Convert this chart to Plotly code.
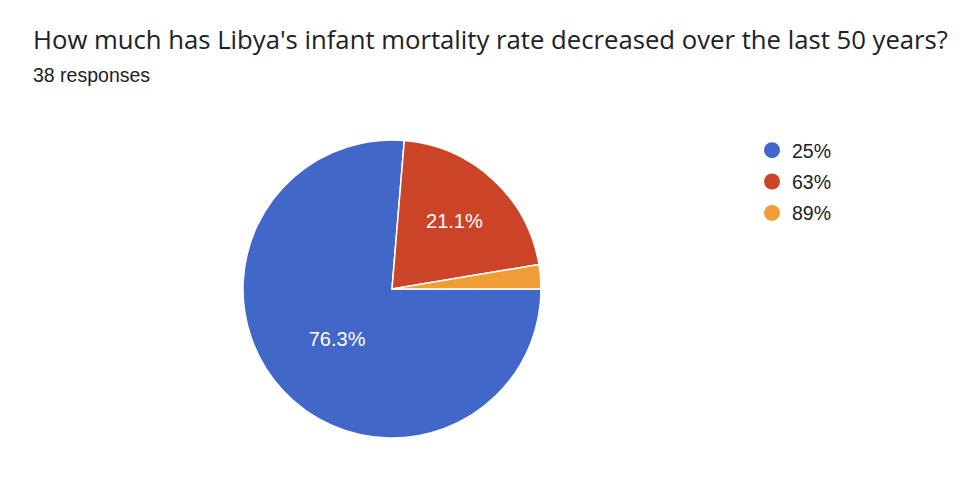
import plotly.graph_objects as go

# Antwortdaten aus dem Formular
labels = ["25%", "63%", "89%"]
counts = [29, 8, 1]
colors = ["#4167c8", "#cc4427", "#f19d37"]

title = "How much has Libya's infant mortality rate decreased over the last 50 years?"
subtitle = f"{sum(counts)} responses"

total = sum(counts)
slice_text = [f"{c / total:.1%}" if c / total >= 0.05 else "" for c in counts]

W, H = 978, 480
OFF = 8  # body margin of the html page

fig = go.Figure()

fig.add_trace(go.Pie(
    labels=labels,
    values=counts,
    text=slice_text,
    textinfo="text",
    textposition="inside",
    insidetextorientation="horizontal",
    textfont=dict(family="Liberation Sans", size=20, color="white"),
    marker=dict(colors=colors, line=dict(color="white", width=1.5)),
    sort=False,
    direction="clockwise",
    rotation=90,
    showlegend=False,
    hoverinfo="label+value+percent",
    domain=dict(x=[(243 - OFF) / W, (541 - OFF) / W],
                y=[(H - 438 + OFF) / H, (H - 140 + OFF) / H]),
))

# Legende mit runden Markern wie bei Google Forms
for lab, col in zip(labels, colors):
    fig.add_trace(go.Scatter(
        x=[None], y=[None], mode="markers", name=lab, legendgroup=lab,
        marker=dict(color=col, size=18, symbol="circle"),
    ))

fig.update_layout(
    width=W,
    height=H,
    margin=dict(l=0, r=0, t=0, b=0),
    paper_bgcolor="white",
    plot_bgcolor="white",
    font=dict(family="Liberation Sans", color="#202124"),
    xaxis=dict(visible=False),
    yaxis=dict(visible=False),
    legend=dict(
        x=744 / W, y=1 - 123 / H, xanchor="left", yanchor="top",
        font=dict(size=19.5, color="#202124"),
        tracegroupgap=3,
        itemwidth=30,
    ),
    annotations=[
        dict(text=title, x=23 / W, y=1 - 12 / H, xref="paper", yref="paper",
             xanchor="left", yanchor="top", showarrow=False,
             font=dict(family="Open Sans", size=25.7, color="#202124")),
        dict(text=subtitle, x=23 / W, y=1 - 54 / H, xref="paper", yref="paper",
             xanchor="left", yanchor="top", showarrow=False,
             font=dict(size=19.5, color="#202124")),
    ],
)

fig.write_html("out.html")
